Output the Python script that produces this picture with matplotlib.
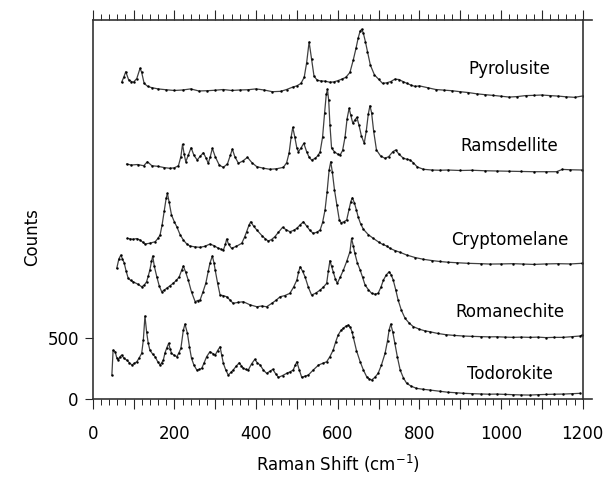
import matplotlib
matplotlib.use("Agg")
import matplotlib.pyplot as plt
from matplotlib.ticker import FixedLocator, MultipleLocator, FuncFormatter

# ---------------- data (counts incl. vertical offset) ----------------
pyro_x = [71, 76, 81, 88, 95, 100, 108, 116, 120, 126, 135, 145, 160, 180, 200, 220, 240, 260, 280, 300,
          320, 340, 360, 380, 400, 420, 440, 460, 475, 490, 500, 510, 518, 524, 530, 536, 542, 550, 560, 570,
          580, 590, 600, 610, 620, 630, 638, 645, 650, 655, 659, 663, 668, 673, 680, 690, 700, 710, 720, 730,
          740, 750, 760, 770, 780, 790, 800, 820, 840, 860, 880, 900, 920, 940, 960, 980, 1000, 1020, 1040,
          1060, 1080, 1100, 1120, 1140, 1160, 1180, 1200]
pyro_y = [2600, 2640, 2686, 2620, 2605, 2600, 2630, 2714, 2680, 2590, 2565, 2555, 2545, 2538, 2532, 2536,
          2545, 2528, 2530, 2534, 2540, 2532, 2536, 2538, 2545, 2536, 2522, 2525, 2540, 2560, 2570, 2590,
          2640, 2760, 2930, 2790, 2650, 2615, 2610, 2608, 2600, 2602, 2612, 2625, 2640, 2680, 2780, 2880,
          2960, 3020, 3034, 3000, 2930, 2850, 2740, 2660, 2625, 2590, 2595, 2605, 2625, 2622, 2605, 2590,
          2575, 2565, 2570, 2555, 2540, 2535, 2530, 2522, 2515, 2505, 2498, 2492, 2485, 2478, 2482, 2490,
          2492, 2495, 2490, 2486, 2480, 2476, 2487]

rams_x = [83, 95, 110, 125, 134, 145, 160, 175, 189, 200, 210, 216, 220, 224, 228, 234, 241, 248, 256, 264,
          271, 278, 283, 288, 293, 300, 310, 320, 330, 337, 342, 348, 357, 368, 379, 390, 402, 418, 434, 450,
          467, 475, 481, 486, 490, 495, 500, 504, 510, 517, 524, 530, 536, 545, 552, 557, 563, 568, 572, 575,
          578, 581, 585, 592, 600, 606, 612, 618, 623, 628, 632, 637, 642, 647, 652, 658, 665, 670, 675, 679,
          683, 688, 695, 705, 716, 725, 735, 742, 750, 761, 770, 777, 785, 795, 810, 830, 850, 870, 900, 930,
          960, 990, 1020, 1050, 1080, 1110, 1136, 1150, 1170, 1198]
rams_y = [1929, 1921, 1925, 1915, 1948, 1915, 1910, 1900, 1894, 1898, 1915, 1990, 2091, 2010, 1948, 2000,
          2063, 2000, 1962, 1995, 2022, 1975, 1935, 1990, 2058, 1990, 1920, 1902, 1930, 2000, 2052, 1990,
          1935, 1955, 1984, 1940, 1907, 1895, 1886, 1890, 1902, 1940, 2020, 2150, 2230, 2150, 2060, 2030,
          2060, 2099, 2030, 1985, 1962, 1975, 2000, 2030, 2150, 2350, 2500, 2542, 2450, 2250, 2060, 2030,
          2010, 2003, 2040, 2150, 2300, 2386, 2330, 2263, 2290, 2312, 2250, 2160, 2099, 2200, 2340, 2407,
          2350, 2200, 2044, 1995, 1976, 1990, 2030, 2044, 2010, 1976, 1968, 1962, 1940, 1905, 1886, 1880,
          1878, 1880, 1876, 1878, 1874, 1872, 1870, 1868, 1866, 1866, 1866, 1885, 1882, 1880]

crypt_x = [85, 92, 99, 108, 116, 122, 128, 140, 153, 160, 165, 170, 175, 180, 183, 187, 193, 200, 206, 214,
           222, 230, 238, 250, 263, 275, 287, 297, 308, 315, 320, 325, 328, 333, 340, 352, 365, 372, 377, 383,
           387, 394, 402, 415, 423, 430, 438, 446, 455, 465, 474, 483, 492, 500, 508, 516, 524, 532, 540, 549,
           557, 563, 569, 574, 579, 583, 587, 592, 598, 604, 608, 615, 622, 628, 632, 636, 641, 646, 650, 656,
           663, 675, 687, 700, 710, 720, 728, 740, 753, 769, 790, 810, 830, 850, 870, 891, 920, 950, 973, 1000,
           1030, 1055, 1080, 1110, 1140, 1170, 1198]
crypt_y = [1320, 1315, 1312, 1318, 1306, 1290, 1273, 1280, 1292, 1320, 1347, 1430, 1540, 1650, 1689, 1620,
           1511, 1455, 1415, 1350, 1306, 1275, 1257, 1250, 1246, 1255, 1273, 1260, 1238, 1230, 1224, 1270,
           1314, 1270, 1238, 1255, 1279, 1330, 1374, 1430, 1456, 1420, 1388, 1340, 1315, 1298, 1310, 1333,
           1370, 1410, 1390, 1374, 1385, 1402, 1430, 1456, 1420, 1385, 1361, 1370, 1388, 1450, 1552, 1700,
           1880, 1948, 1860, 1720, 1593, 1470, 1448, 1455, 1470, 1560, 1620, 1653, 1610, 1550, 1497, 1440,
           1394, 1350, 1320, 1290, 1270, 1257, 1238, 1220, 1205, 1183, 1162, 1148, 1138, 1130, 1124, 1120,
           1115, 1112, 1109, 1110, 1112, 1109, 1106, 1110, 1112, 1110, 1115]

roman_x = [59, 64, 69, 73, 77, 82, 87, 93, 99, 110, 120, 126, 132, 136, 140, 144, 147, 151, 157, 163, 169,
           175, 181, 189, 197, 205, 212, 218, 222, 228, 234, 242, 251, 257, 263, 270, 277, 283, 287, 293, 297,
           300, 306, 312, 320, 328, 336, 344, 356, 369, 385, 402, 414, 426, 440, 450, 459, 470, 483, 492, 500,
           504, 508, 514, 520, 528, 536, 546, 557, 565, 573, 577, 581, 585, 589, 594, 599, 606, 614, 622, 630,
           634, 638, 642, 648, 655, 661, 667, 675, 683, 691, 699, 706, 712, 719, 726, 731, 736, 742, 748, 756,
           765, 775, 785, 800, 813, 826, 845, 865, 885, 908, 930, 950, 970, 989, 1010, 1030, 1050, 1071, 1090,
           1110, 1130, 1152, 1175, 1193, 1199]
roman_y = [1074, 1150, 1183, 1150, 1120, 1050, 992, 975, 964, 945, 923, 935, 964, 1010, 1060, 1130, 1175,
           1090, 1005, 930, 882, 895, 910, 930, 951, 975, 1005, 1060, 1093, 1040, 978, 880, 800, 810, 814, 880,
           951, 1050, 1115, 1175, 1120, 1060, 950, 855, 850, 841, 815, 787, 795, 800, 775, 759, 765, 759, 790,
           815, 841, 850, 869, 920, 978, 1040, 1087, 1050, 1005, 920, 855, 870, 896, 920, 951, 1050, 1137,
           1090, 1046, 990, 951, 1000, 1060, 1130, 1210, 1320, 1260, 1197, 1120, 1060, 1000, 937, 900, 869,
           862, 869, 920, 978, 1020, 1046, 1020, 978, 900, 814, 730, 664, 625, 596, 575, 562, 554, 540, 530,
           524, 519, 516, 514, 512, 513, 510, 508, 510, 508, 510, 506, 508, 508, 514, 519, 527]

todo_x = [47, 50, 55, 59, 63, 67, 71, 77, 83, 90, 96, 102, 108, 114, 120, 124, 128, 132, 136, 140, 147, 153,
          159, 165, 169, 173, 177, 181, 186, 190, 193, 200, 206, 211, 216, 222, 226, 232, 237, 242, 248, 255,
          261, 267, 273, 279, 287, 294, 300, 306, 312, 316, 320, 326, 332, 338, 344, 351, 359, 364, 369, 375,
          381, 389, 397, 403, 410, 418, 426, 434, 441, 448, 455, 465, 475, 483, 491, 496, 500, 506, 512, 520,
          528, 540, 553, 563, 573, 581, 589, 595, 601, 608, 614, 620, 626, 631, 635, 638, 646, 655, 663, 671,
          677, 683, 691, 699, 707, 716, 722, 726, 730, 735, 740, 746, 753, 761, 769, 780, 793, 810, 826, 850,
          870, 890, 908, 930, 950, 970, 989, 1010, 1030, 1050, 1071, 1090, 1110, 1130, 1152, 1175, 1193]
todo_y = [199, 404, 390, 340, 322, 350, 363, 335, 322, 300, 281, 295, 308, 340, 377, 486, 683, 554, 460, 404,
          370, 349, 310, 281, 300, 322, 380, 418, 459, 410, 377, 360, 349, 380, 418, 568, 617, 541, 430, 336,
          280, 240, 245, 254, 300, 349, 390, 375, 363, 400, 431, 360, 295, 240, 199, 220, 240, 270, 300, 275,
          254, 245, 240, 290, 328, 300, 281, 240, 213, 230, 246, 210, 180, 195, 213, 225, 240, 280, 308, 240,
          180, 190, 199, 240, 281, 295, 308, 350, 404, 470, 527, 565, 582, 600, 609, 590, 555, 513, 400, 308,
          240, 185, 168, 158, 180, 213, 280, 377, 480, 570, 617, 550, 459, 350, 240, 175, 131, 108, 90, 82, 76,
          66, 58, 54, 49, 46, 44, 42, 43, 40, 38, 36, 35, 38, 40, 42, 43, 46, 49]

names = ["Pyrolusite", "Ramsdellite", "Cryptomelane", "Romanechite", "Todorokite"]
label_y = [2670, 2036, 1268, 677, 166]
label_x = 1021

x_ticks = [0, 200, 400, 600, 800, 1000, 1200]
y_ticks = [0, 500]

# ---------------- figure ----------------
plt.rcParams['font.family'] = ['DejaVu Sans']
fig = plt.figure(figsize=(6.09, 4.78), dpi=100)
ax = fig.add_axes([0.1522, 0.1646, 0.8046, 0.7936])

series = [(pyro_x, pyro_y), (rams_x, rams_y), (crypt_x, crypt_y), (roman_x, roman_y), (todo_x, todo_y)]
for (xs, ys) in series:
    ax.plot(xs, ys, '-', color='0.25', lw=0.9, marker='.', ms=2.8, mfc='k', mec='k', mew=0.3)

for nm, ly in zip(names, label_y):
    ax.text(label_x, ly, nm, ha='center', va='baseline', fontsize=12, color='k')

ax.set_xlim(0, 1200)
ax.set_ylim(0, 3110)

ax.xaxis.set_major_locator(MultipleLocator(100))
ax.xaxis.set_minor_locator(MultipleLocator(20))
ax.xaxis.set_major_formatter(FuncFormatter(lambda v, p: f"{int(round(v))}" if int(round(v)) in x_ticks else ""))
ax.yaxis.set_major_locator(FixedLocator(y_ticks))

ax.tick_params(axis='x', which='major', direction='out', length=7.5, width=0.8, top=True, bottom=True,
               labelsize=12, pad=11, colors='0.15')
ax.tick_params(axis='x', which='minor', direction='out', length=4.2, width=0.7, top=True, bottom=True,
               colors='0.15')
ax.tick_params(axis='y', which='major', direction='out', length=6, width=0.8, labelsize=12, pad=4,
               colors='0.15')
ax.tick_params(labelcolor='k')

for s in ax.spines.values():
    s.set_linewidth(1.2)
    s.set_color('0.2')

# short extensions of the horizontal frame lines past the right spine
for yy in (0, 1):
    ax.plot([1.0, 1.02], [yy, yy], transform=ax.transAxes, color='0.2', lw=1.2, clip_on=False)

ax.set_xlabel(r'Raman Shift (cm$^{\mathregular{-1}}$)', fontsize=12)
ax.xaxis.set_label_coords(0.5, -0.14)
ax.xaxis.label.set_va('top')
ax.set_ylabel('Counts', fontsize=12)
ax.yaxis.set_label_coords(-0.106, 0.428)

fig.savefig('out.png', dpi=100)
